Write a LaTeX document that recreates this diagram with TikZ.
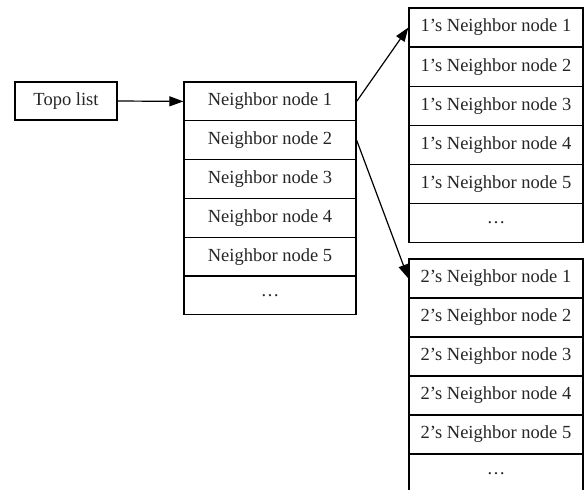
\documentclass[tikz,border=0pt]{standalone}
\usepackage{fontspec}
\setmainfont{Liberation Serif}
\usetikzlibrary{arrows.meta}
\begin{document}
\begin{tikzpicture}[x=1pt,y=-1pt,
  cell/.style={draw=black, line width=1.3pt, fill=white, inner sep=0pt,
    font=\fontsize{18.5}{21}\selectfont, text=black!85},
  midcell/.style={cell, minimum width=172pt, minimum height=38.8pt},
  sidecell/.style={cell, minimum width=174pt, minimum height=39.1pt},
  link/.style={draw=black, line width=1.2pt, -{Triangle[length=14pt,width=10pt]}}]
\useasboundingbox (0,0) rectangle (584,490);

% list head
\node[cell, minimum width=102pt, minimum height=38pt] (topo) at (66,101) {Topo list};

% neighbours of the head
\foreach \i/\t in {1/Neighbor node 1,2/Neighbor node 2,3/Neighbor node 3,
                   4/Neighbor node 4,5/Neighbor node 5,6/\dots}
  \node[midcell] (n\i) at (270,{82+38.8*(\i-0.5)}) {\t};

% neighbours of node 1
\foreach \i/\t in {1/1's Neighbor node 1,2/1's Neighbor node 2,3/1's Neighbor node 3,
                   4/1's Neighbor node 4,5/1's Neighbor node 5,6/\dots}
  \node[sidecell] (a\i) at (496,{8+39.1*(\i-0.5)}) {\t};

% neighbours of node 2
\foreach \i/\t in {1/2's Neighbor node 1,2/2's Neighbor node 2,3/2's Neighbor node 3,
                   4/2's Neighbor node 4,5/2's Neighbor node 5,6/\dots}
  \node[sidecell] (b\i) at (496,{259+39*(\i-0.5)}) {\t};

\draw[link] (topo.east) -- (n1.west);
\draw[link] (n1.east) -- (a1.west);
\draw[link] (n2.east) -- (b1.west);
\end{tikzpicture}
\end{document}
